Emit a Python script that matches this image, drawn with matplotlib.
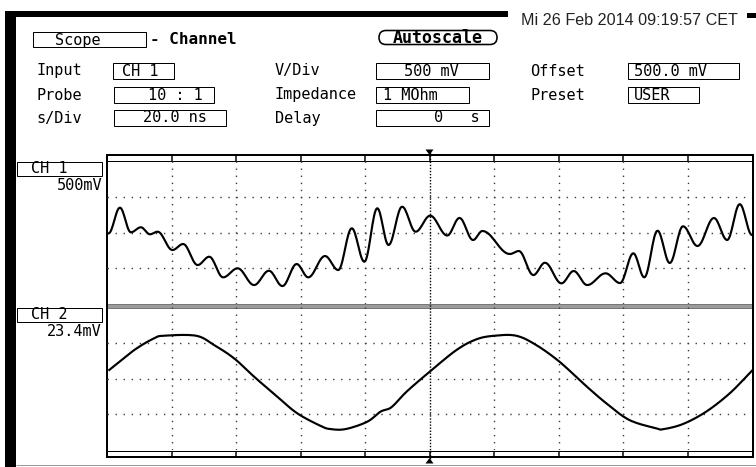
import numpy as np
import matplotlib
matplotlib.use("Agg")
import matplotlib.pyplot as plt
from matplotlib.patches import Rectangle, FancyBboxPatch, Polygon

# ---------------- data ----------------
ch1_time_ns = [-99.5, -96.0, -92.6, -89.5, -86.7, -84.3, -79.7, -76.4, -71.9, -68.3,
               -64.0, -59.5, -54.4, -49.8, -45.6, -41.2, -37.6, -32.4, -28.3, -24.1,
               -20.2, -16.2, -12.7, -8.5, -4.3, 0.2, 5.5, 9.3, 13.5, 16.4,
               24.9, 27.7, 32.2, 35.8, 40.9, 44.7, 48.9, 54.6, 59.1, 63.2,
               66.6, 70.7, 74.5, 78.6, 83.1, 88.2, 92.3, 96.2, 100.0]
ch1_mv = [489, 847, 503, 573, 475, 511, 255, 339, 45, 161,
          -127, -1, -235, -35, -249, 59, -127, 171, -25, 559,
          91, 839, 325, 861, 511, 735, 458, 703, 395, 521,
          199, 241, -95, 77, -211, -39, -235, -71, -207, 209,
          -127, 525, 73, 587, 311, 703, 395, 896, 465]

ch2_time_ns = [-99.3, -91.5, -85.4, -82.3, -72.4, -66.8, -60.6, -54.4, -47.2, -41.0,
               -33.7, -30.7, -26.0, -19.3, -15.2, -11.8, -7.1, 0.1, 8.4, 14.6,
               20.2, 26.9, 33.1, 40.3, 47.6, 54.8, 62.0, 70.3, 72.4, 78.6,
               85.8, 93.1, 99.2, 100.0]
ch2_mv = [5.6, 18.7, 26.3, 28.0, 28.0, 21.9, 13.2, 1.2, -11.9, -22.8,
          -31.1, -33.1, -33.1, -28.3, -21.7, -18.8, -8.6, 4.5, 18.7, 25.7,
          28.0, 28.0, 21.9, 11.0, -3.1, -16.2, -27.2, -32.6, -33.2, -29.8,
          -21.7, -9.7, 3.4, 5.1]

ch1_scale_mv = 500.0
ch1_offset_mv = 500.0
ch2_scale_mv = 23.4
time_div_ns = 20.0

header_title = "Scope"
header_sub = "- Channel"
autoscale_label = "Autoscale"
date_label = "Mi 26 Feb 2014 09:19:57 CET"
field_labels = ["Input", "Probe", "s/Div", "V/Div", "Impedance", "Delay", "Offset", "Preset"]
field_values = ["CH 1", "10 : 1", "20.0 ns", "500 mV", "1 MOhm", "0   s", "500.0 mV", "USER"]
channel_labels = ["CH 1", "CH 2"]
channel_scales = ["500mV", "23.4mV"]

# ---------------- figure ----------------
W, H, DPI = 756, 467, 100
fig = plt.figure(figsize=(W / DPI, H / DPI), dpi=DPI)
fig.patch.set_facecolor("white")

bg = fig.add_axes([0, 0, 1, 1])
bg.set_xlim(0, W)
bg.set_ylim(H, 0)
bg.axis("off")

MONO = "DejaVu Sans Mono"
PX = 0.72  # points per pixel


def L(x0, y0, x1, y1, lwpx=1.0, color="k", **kw):
    bg.plot([x0, x1], [y0, y1], color=color, lw=lwpx * PX, solid_capstyle="butt", **kw)


def box(x0, y0, x1, y1, lwpx=1.0):
    bg.add_patch(Rectangle((x0, y0), x1 - x0, y1 - y0, fill=False, ec="k", lw=lwpx * PX))


# black screen borders
bg.add_patch(Rectangle((5, 11), 503, 6, color="k", lw=0))
bg.add_patch(Rectangle((5, 11), 11, 456, color="k", lw=0))
bg.add_patch(Rectangle((747, 13), 9, 4.5, color="k", lw=0))
L(16, 465, 756, 465, 1, color="#9a9a9a")

# date
bg.text(521, 20.5, date_label, ha="left", va="center", fontsize=11.6,
        family="Liberation Sans", color="#222222")

# header
box(33, 32, 146, 47)
bg.text(78, 40, header_title, ha="center", va="center", fontsize=11, family=MONO)
bg.text(150, 40, header_sub, ha="left", va="center", fontsize=11.5, family=MONO,
        fontweight="bold")
bg.add_patch(FancyBboxPatch((379, 30.5), 118, 14, boxstyle="round,pad=0,rounding_size=7",
                            fill=False, ec="k", lw=1.6 * PX))
bg.text(438, 38, autoscale_label, ha="center", va="center", fontsize=12, family=MONO,
        fontweight="bold")

rows_y = [71, 95, 118]
label_pos = [(36, rows_y[0]), (36, rows_y[1]), (36, rows_y[2]),
             (275, rows_y[0]), (275, rows_y[1]), (275, rows_y[2]),
             (530, rows_y[0]), (530, rows_y[1])]
for (x, y), s in zip(label_pos, field_labels):
    bg.text(x, y, s, ha="left", va="center", fontsize=11, family=MONO)

value_boxes = [(113, 174, 63, 79), (114, 214, 87, 103), (114, 226, 110, 126),
               (376, 489, 63, 79), (376, 469, 87, 103), (376, 489, 110, 126),
               (628, 739, 63, 79), (628, 699, 87, 103)]
value_text = [(122, "left"), (175, "center"), (175, "center"),
              (431, "center"), (383, "left"), (457, "center"),
              (634, "left"), (634, "left")]
for (x0, x1, y0, y1), (tx, ha), s in zip(value_boxes, value_text, field_values):
    box(x0, y0, x1, y1)
    bg.text(tx, (y0 + y1) / 2, s, ha=ha, va="center", fontsize=11, family=MONO)

# ---------------- graticule frame ----------------
XL, XR = 107, 752
P1 = (161, 304)
P2 = (307, 450)
ndiv = 10
divx = [XL + k * (XR - XL) / ndiv for k in range(ndiv + 1)]

L(XL, 155, XR + 1, 155, 2)
L(XL, 161, XR + 1, 161, 1)
L(XL, 451, XR + 1, 451, 1)
L(XL, 457, XR + 1, 457, 2)
for x in divx[1:-1]:
    L(x, 155, x, 161, 1.5)
    L(x, 451, x, 457, 1.5)
L(XL, 154, XL, 458, 2)
L(XR + 1, 154, XR + 1, 458, 2)
bg.add_patch(Rectangle((XL, 303.5), XR + 1 - XL, 4, fc="#9c9c9c", ec="#555555", lw=0.5))

# channel labels on the left
for (y0, y1), lab, sc in zip([P1, P2], channel_labels, channel_scales):
    box(17, y0 + 0.5, 102, y0 + 14.5)
    bg.text(31, y0 + 7.5, lab, ha="left", va="center", fontsize=11, family=MONO)
    bg.text(102, y0 + 24, sc, ha="right", va="center", fontsize=11, family=MONO)


def panel(y0, y1):
    ax = fig.add_axes([XL / W, 1 - y1 / H, (XR - XL) / W, (y1 - y0) / H])
    ax.set_facecolor("none")
    ax.axis("off")
    return ax


half = ndiv / 2 * time_div_ns
ax1 = panel(*P1)
ax1.set_xlim(-half, half)
ax1.set_ylim(ch1_offset_mv - 2 * ch1_scale_mv, ch1_offset_mv + 2 * ch1_scale_mv)
ax2 = panel(*P2)
ax2.set_xlim(-half, half)
ax2.set_ylim(-2 * ch2_scale_mv, 2 * ch2_scale_mv)

grid_kw = dict(color="#3a3a3a", lw=1.0)
for ax, center, sc in [(ax1, ch1_offset_mv, ch1_scale_mv), (ax2, 0.0, ch2_scale_mv)]:
    for k in (-1, 0, 1):
        ax.axhline(center + k * sc, ls=(0, (1, 4.8)), **grid_kw)
    for k in range(-4, 5):
        if k != 0:
            ax.axvline(k * time_div_ns, ls=(0, (1, 4.1)), **grid_kw)

# centre (trigger) line and markers
xc = (XL + XR) / 2
bg.plot([xc, xc], [152, 459], ls=(0, (1, 1.2)), lw=1.0, color="k")
bg.add_patch(Polygon([(xc - 4, 149.5), (xc + 4, 149.5), (xc, 155)], color="k", lw=0))
bg.add_patch(Polygon([(xc - 4, 463.5), (xc + 4, 463.5), (xc, 458)], color="k", lw=0))

# ---------------- traces ----------------
# CH1: half-cosine segments between successive read extrema (smooth ringing)
t1 = np.asarray(ch1_time_ns)
v1 = np.asarray(ch1_mv, dtype=float)
xs, ys = [], []
s = np.linspace(0, 1, 16, endpoint=False)
for i in range(len(t1) - 1):
    xs.append(t1[i] + (t1[i + 1] - t1[i]) * s)
    ys.append(v1[i] + (v1[i + 1] - v1[i]) * (1 - np.cos(np.pi * s)) / 2)
xs.append([t1[-1]])
ys.append([v1[-1]])
ax1.plot(np.concatenate(xs), np.concatenate(ys), color="k", lw=1.55,
         solid_joinstyle="round")

# CH2: Catmull-Rom curve through the read points
t2 = np.asarray(ch2_time_ns)
v2 = np.asarray(ch2_mv, dtype=float)
n = len(t2)
cx, cy = [], []
u = np.linspace(0, 1, 12, endpoint=False)
for i in range(n - 1):
    i0, i3 = max(i - 1, 0), min(i + 2, n - 1)
    for arr, out in ((t2, cx), (v2, cy)):
        p0, p1, p2, p3 = arr[i0], arr[i], arr[i + 1], arr[i3]
        out.append(0.5 * (2 * p1 + (-p0 + p2) * u + (2 * p0 - 5 * p1 + 4 * p2 - p3) * u ** 2
                          + (-p0 + 3 * p1 - 3 * p2 + p3) * u ** 3))
cx.append([t2[-1]])
cy.append([v2[-1]])
ax2.plot(np.concatenate(cx), np.concatenate(cy), color="k", lw=1.55,
         solid_joinstyle="round")

fig.savefig("out.png", dpi=DPI, facecolor="white")
